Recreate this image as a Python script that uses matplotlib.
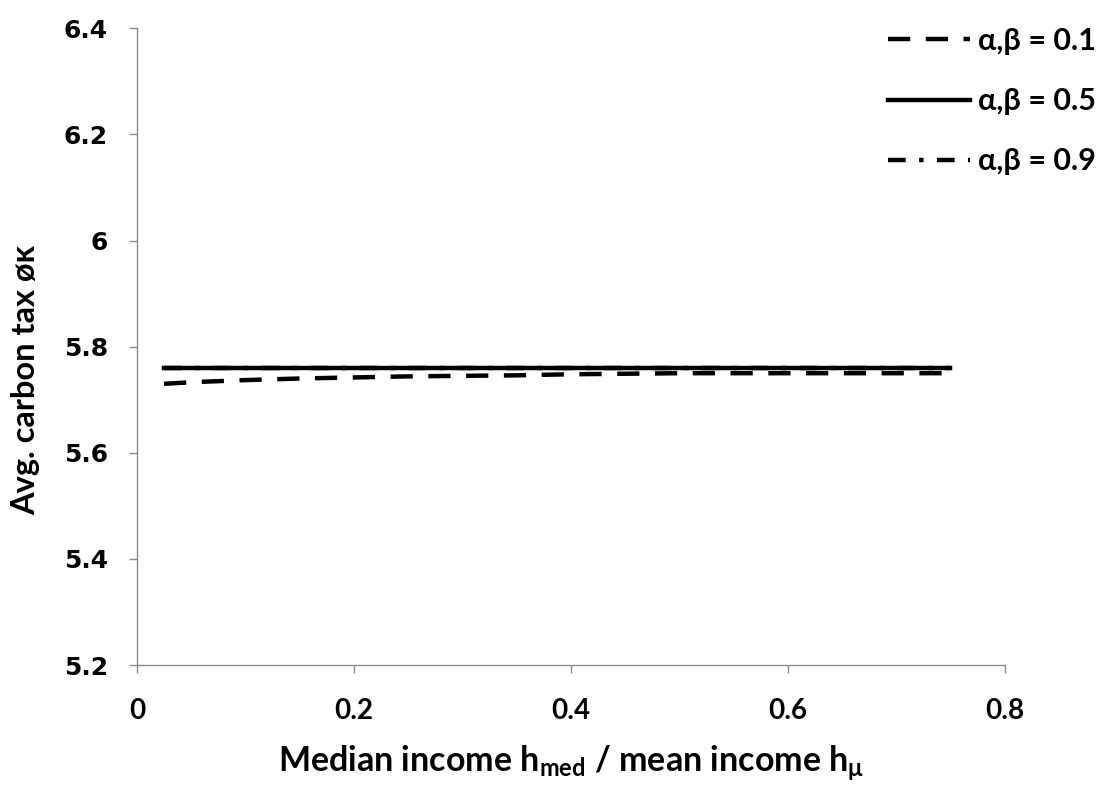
import matplotlib
matplotlib.use("Agg")
import matplotlib.pyplot as plt

# Ratio of median to mean income
ratio = [0.025, 0.05, 0.1, 0.15, 0.2, 0.25, 0.3, 0.35, 0.4, 0.45, 0.5, 0.55, 0.6, 0.65, 0.7, 0.75]

# Average carbon tax for each alpha/beta setting
tax_01 = [5.730, 5.733, 5.737, 5.740, 5.742, 5.744, 5.745, 5.746, 5.748, 5.749, 5.750, 5.750, 5.750, 5.750, 5.750, 5.750]
tax_05 = [5.760] * 16
tax_09 = [5.759] * 16

labels = ["α,β = 0.1", "α,β = 0.5", "α,β = 0.9"]

plt.rcParams['font.family'] = ['Lato', 'DejaVu Sans']

fig = plt.figure(figsize=(11.04, 7.87), dpi=100)
ax = fig.add_axes([0.124, 0.155, 0.786, 0.809])

ax.plot(ratio, tax_01, color='black', lw=3.2, linestyle=(0, (5, 3.5)), label=labels[0])
ax.plot(ratio, tax_05, color='black', lw=3.2, linestyle='-', label=labels[1])
ax.plot(ratio, tax_09, color='black', lw=3.2, linestyle=(0, (4, 3, 1, 3)), label=labels[2])

ax.set_xlim(0, 0.8)
ax.set_ylim(5.2, 6.4)
ax.set_xticks([0, 0.2, 0.4, 0.6, 0.8])
ax.set_xticklabels(['0', '0.2', '0.4', '0.6', '0.8'])
ax.set_yticks([5.2, 5.4, 5.6, 5.8, 6.0, 6.2, 6.4])
ax.set_yticklabels(['5.2', '5.4', '5.6', '5.8', '6', '6.2', '6.4'])

for s in ['top', 'right']:
    ax.spines[s].set_visible(False)
for s in ['left', 'bottom']:
    ax.spines[s].set_color('#8c8c8c')
    ax.spines[s].set_linewidth(1.0)

ax.tick_params(axis='both', direction='out', length=6, color='#8c8c8c', width=1.0)
ax.tick_params(axis='y', pad=15)
ax.tick_params(axis='x', pad=18)
for t in ax.get_xticklabels():
    t.set_fontsize(20)
    t.set_fontweight('bold')
for t in ax.get_yticklabels():
    t.set_family('DejaVu Sans')
    t.set_fontsize(18)
    t.set_fontweight('bold')

ax.set_xlabel(r'Median income h$_{\mathregular{med}}$ / mean income h$_{\mathregular{\mu}}$',
              fontsize=24.5, fontweight='bold', labelpad=14)
ax.set_ylabel('Avg. carbon tax øκ', fontsize=23.5, fontweight='bold')
ax.yaxis.set_label_coords(-0.111, 0.447)

leg = ax.legend(loc='upper right', bbox_to_anchor=(1.137, 1.045), frameon=False,
                fontsize=22, handlelength=2.7, handletextpad=0.25, labelspacing=1.05)
for t in leg.get_texts():
    t.set_fontweight('bold')

fig.savefig('out.png', dpi=100)
